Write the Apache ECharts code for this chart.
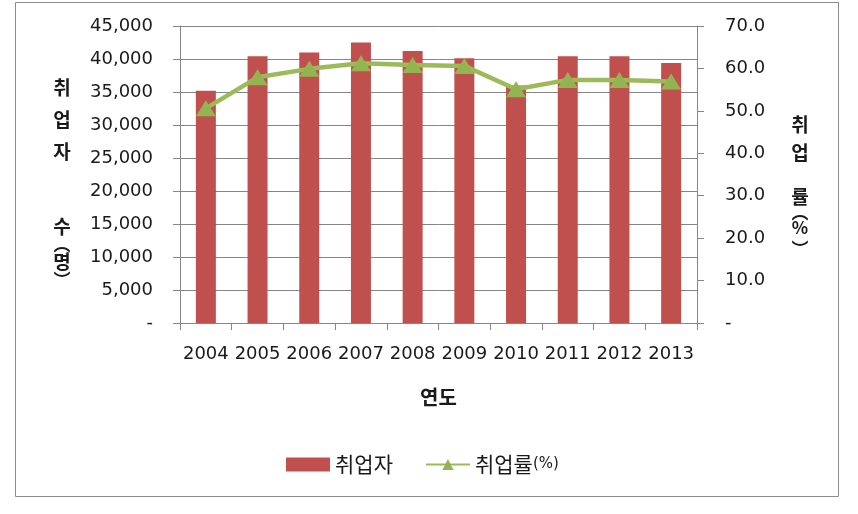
<!DOCTYPE html>
<html><head><meta charset="utf-8">
<script src="https://cdn.jsdelivr.net/npm/echarts@6/dist/echarts.min.js"></script>
<style>html,body{margin:0;padding:0;background:#fff}#c{width:858px;height:514px}</style>
</head><body><div id="c"></div>
<script>
const years = ['2004','2005','2006','2007','2008','2009','2010','2011','2012','2013'];
const employed = [35200, 40400, 41000, 42500, 41200, 40100, 36000, 40400, 40400, 39400];
const employRate = [50.6, 57.9, 59.9, 61.2, 60.8, 60.6, 55.1, 57.3, 57.3, 56.9];
const seriesNames = ['취업자', '취업률(%)'];
const xName = '연도';

const numFont = 'DejaVu Sans';
const krFont = '"Noto Sans CJK KR", sans-serif';
const ink = '#1a1a1a';
const chart = echarts.init(document.getElementById('c'));
chart.setOption({
  animation: false,
  backgroundColor: '#fff',
  graphic: [{type:'rect', shape:{x:15.5,y:2.5,width:823,height:494}, style:{fill:'none', stroke:'#8c8c8c', lineWidth:1}, silent:true}],
  grid: {left:180, right:161, top:26, bottom:191, containLabel:false},
  legend: {
    left: 281, top: 449, itemGap: 32, itemWidth: 44, itemHeight: 14,
    textStyle: {fontFamily: krFont, fontSize: 21, color: ink, rich:{s:{fontFamily: numFont, fontSize: 15, color: ink}}},
    formatter: n => n.replace('(%)', '{s|(%)}'),
    data: [{name: seriesNames[0], icon:'rect'}, {name: seriesNames[1]}]
  },
  xAxis: {
    type:'category', data: years,
    axisLine:{lineStyle:{color:'#868686'}},
    axisTick:{show:true, length:7, lineStyle:{color:'#868686'}},
    axisLabel:{fontFamily:numFont, fontSize:18, color:ink, margin:22, interval:0},
    name: xName, nameLocation:'middle', nameGap:64,
    nameTextStyle:{fontFamily:krFont, fontSize:20, fontWeight:'bold', color:ink}
  },
  yAxis: [{
    type:'value', min:0, max:45000, interval:5000,
    axisLine:{show:true, lineStyle:{color:'#868686'}},
    axisTick:{show:true, length:7, lineStyle:{color:'#868686'}},
    splitLine:{show:true, lineStyle:{color:'#868686', width:1}},
    axisLabel:{fontFamily:numFont, fontSize:18, color:ink, margin:27,
      formatter: v => v === 0 ? '-' : v.toLocaleString('en-US')},
    name:'{a|취}\n{a|업}\n{a|자}\n{g| }\n{a|수}\n{p|︵}\n{a|명}\n{q|︶}',
    nameLocation:'middle', nameRotate:0, nameGap:118,
    nameTextStyle:{fontFamily:krFont, fontSize:19, fontWeight:'bold', color:ink, align:'center', verticalAlign:'middle',
      padding:[5,0,0,0],
      rich:{a:{fontFamily:krFont, fontSize:19, fontWeight:'bold', lineHeight:32, color:ink},
            g:{fontSize:19, lineHeight:43},
            p:{fontFamily:krFont, fontSize:17, fontWeight:'bold', lineHeight:3, color:ink},
            q:{fontFamily:krFont, fontSize:17, fontWeight:'bold', lineHeight:4, color:ink}}}
  },{
    type:'value', min:0, max:70, interval:10, position:'right',
    axisLine:{show:true, lineStyle:{color:'#868686'}},
    axisTick:{show:true, length:7, lineStyle:{color:'#868686'}},
    splitLine:{show:false},
    axisLabel:{fontFamily:numFont, fontSize:18, color:ink, margin:28,
      formatter: v => v === 0 ? '-' : v.toFixed(1)},
    name:'{a|취}\n{a|업}\n{g| }\n{a|률}\n{p|︵}\n{b|%}\n{q|︶}',
    nameLocation:'middle', nameRotate:0, nameGap:103,
    nameTextStyle:{fontFamily:krFont, fontSize:19, fontWeight:'bold', color:ink, align:'center', verticalAlign:'middle',
      padding:[19,0,0,0],
      rich:{a:{fontFamily:krFont, fontSize:19, fontWeight:'bold', lineHeight:28, color:ink},
            g:{fontSize:19, lineHeight:16},
            b:{fontFamily:krFont, fontSize:17, fontWeight:'bold', lineHeight:26, color:ink},
            p:{fontFamily:krFont, fontSize:17, fontWeight:'bold', lineHeight:4, color:ink},
            q:{fontFamily:krFont, fontSize:17, fontWeight:'bold', lineHeight:16, color:ink}}}
  }],
  series: [{
    name: seriesNames[0], type:'bar', data: employed, barWidth: 20,
    itemStyle:{color:'#C0504D'}
  },{
    name: seriesNames[1], type:'line', yAxisIndex:1, data: employRate,
    lineStyle:{color:'#9BBB59', width:4.5},
    itemStyle:{color:'#92B552'},
    symbol:'triangle', symbolSize:[20,16], showSymbol:true
  }]
});
</script></body></html>
